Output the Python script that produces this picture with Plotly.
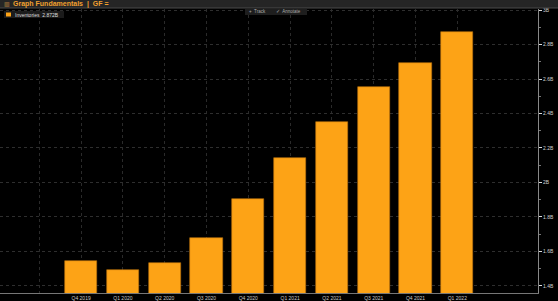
import plotly.graph_objects as go

categories = ["Q4 2019", "Q1 2020", "Q2 2020", "Q3 2020", "Q4 2020",
              "Q1 2021", "Q2 2021", "Q3 2021", "Q4 2021", "Q1 2022"]
inventories = [1.547, 1.491, 1.533, 1.680, 1.904, 2.140, 2.352, 2.555, 2.691, 2.872]
y_tick_vals = [1.4, 1.6, 1.8, 2.0, 2.2, 2.4, 2.6, 2.8, 3.0]
y_tick_text = ["1.4B", "1.6B", "1.8B", "2B", "2.2B", "2.4B", "2.6B", "2.8B", "3B"]

W, H = 558, 301
ML, MR, MT, MB = 0, 20, 9, 8
PH = H - MT - MB

def py(Y):  # pixel row -> paper y
    return (H - MB - Y) / PH

def px(X):
    return (X - ML) / (W - ML - MR)

positions = list(range(len(categories)))

fig = go.Figure()
fig.add_trace(go.Bar(
    x=positions, y=inventories, name="Inventories",
    marker=dict(color="#FDA316", line=dict(color="#B8700C", width=0.6)),
    width=0.77, showlegend=False, base=None,
))

fig.update_layout(
    width=W, height=H,
    margin=dict(l=ML, r=MR, t=MT, b=MB, pad=0),
    paper_bgcolor="#000000", plot_bgcolor="#000000",
    font=dict(family="Arial, Liberation Sans, sans-serif", color="#bbbbbb"),
    bargap=0,
    xaxis=dict(
        range=[-1.94, 10.93],
        tickvals=[-1] + positions,
        ticktext=[""] + categories,
        tickfont=dict(size=5, color="#c8c8c8"),
        showgrid=True, gridcolor="#2a2a2a", griddash="dot", gridwidth=1,
        zeroline=False, showline=True, linecolor="#777777", linewidth=1,
        ticks="", ticklen=0, fixedrange=True,
    ),
    yaxis=dict(
        side="right",
        range=[1.359, 3.006],
        tickvals=y_tick_vals, ticktext=y_tick_text,
        tickfont=dict(size=5, color="#d0d0d0"),
        ticks="outside", ticklen=3, tickcolor="#dddddd", tickwidth=1,
        minor=dict(ticks="outside", ticklen=2, tickcolor="#777777", dtick=0.1, tick0=1.4, showgrid=False),
        showgrid=True, gridcolor="#2e2e2e", griddash="dot", gridwidth=1,
        zeroline=False, showline=True, linecolor="#888888", linewidth=1,
    ),
)

shapes = []
# header bar
shapes.append(dict(type="rect", xref="paper", yref="paper", x0=px(0), x1=px(W),
                   y0=py(8), y1=py(-1), fillcolor="#252525", line=dict(width=0), layer="above"))
shapes.append(dict(type="line", xref="paper", yref="paper", x0=px(0), x1=px(W),
                   y0=py(8), y1=py(8), line=dict(color="#4a4a4a", width=1), layer="above"))
# legend box
shapes.append(dict(type="rect", xref="paper", yref="paper", x0=px(4), x1=px(64),
                   y0=py(18), y1=py(11), fillcolor="#1b1b1b", line=dict(width=0), layer="above"))
shapes.append(dict(type="rect", xref="paper", yref="paper", x0=px(6), x1=px(11),
                   y0=py(16.5), y1=py(12.5), fillcolor="#FDA316", line=dict(width=0), layer="above"))
# Track / Annotate buttons
shapes.append(dict(type="rect", xref="paper", yref="paper", x0=px(245), x1=px(307),
                   y0=py(15), y1=py(9), fillcolor="#1e1e1e", line=dict(width=0), layer="above"))
fig.update_layout(shapes=shapes)

annotations = [
    dict(text="▥", x=px(2), y=py(4), xref="paper", yref="paper", xanchor="left", yanchor="middle",
         showarrow=False, font=dict(size=6, color="#c08a40")),
    dict(text="<b>Graph Fundamentals  |  GF =</b>", x=px(11), y=py(4), xref="paper", yref="paper",
         xanchor="left", yanchor="middle", showarrow=False, font=dict(size=7, color="#F0A030")),
    dict(text=f"Inventories  {inventories[-1]:.3f}B", x=px(13), y=py(14.5), xref="paper", yref="paper",
         xanchor="left", yanchor="middle", showarrow=False, font=dict(size=5, color="#dddddd")),
    dict(text="+  Track", x=px(247), y=py(12), xref="paper", yref="paper",
         xanchor="left", yanchor="middle", showarrow=False, font=dict(size=4.5, color="#aaaaaa")),
    dict(text="✓  Annotate", x=px(274), y=py(12), xref="paper", yref="paper",
         xanchor="left", yanchor="middle", showarrow=False, font=dict(size=4.5, color="#aaaaaa")),
]
fig.update_layout(annotations=annotations)

fig.write_html("out.html")
